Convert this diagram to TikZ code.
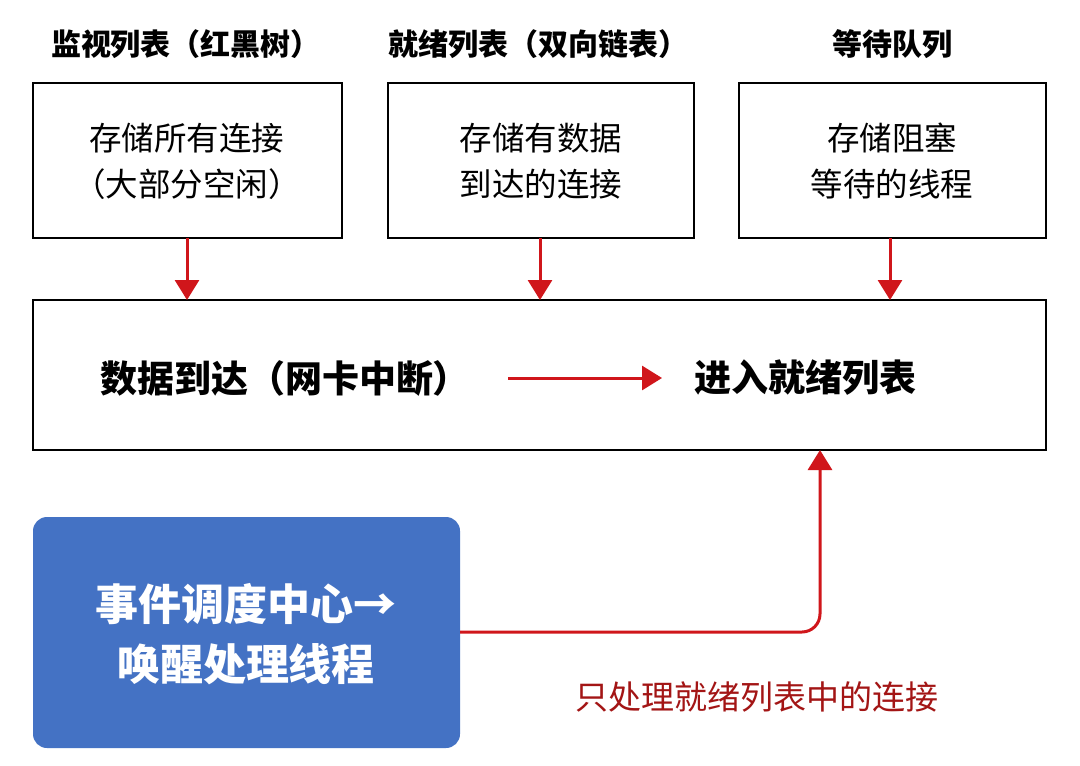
\documentclass[tikz,border=0pt]{standalone}
\usepackage{fontspec}
\setmainfont{Noto Sans CJK SC}
\usetikzlibrary{arrows.meta}
\definecolor{myred}{HTML}{D0161B}
\definecolor{myblue}{HTML}{4472C4}
\definecolor{darkred}{HTML}{A31515}
\begin{document}
\begin{tikzpicture}[x=1pt,y=-1pt,
  hdr/.style={font=\fontsize{30}{34}\selectfont\bfseries},
  box/.style={draw=black,line width=2.8pt,fill=white},
  btxt/.style={font=\fontsize{32.5}{46}\selectfont,align=center},
  arr/.style={myred,line width=3pt,-{Triangle[length=20pt,width=24pt]}}]
\useasboundingbox (0,0) rectangle (1080,766);
\fill[white] (0,0) rectangle (1080,766);
\node[hdr] (h1) at (186,44) {监视列表（红黑树）};
\node[hdr] (h2) at (538,44) {就绪列表（双向链表）};
\node[hdr] (h3) at (892,44) {等待队列};
\draw[box] (33,83) rectangle (342,238);
\draw[box] (388,83) rectangle (694,238);
\draw[box] (739,83) rectangle (1046,238);
\node[btxt] (b1) at (187,161) {存储所有连接\\（大部分空闲）};
\node[btxt] (b2) at (541,161) {存储有数据\\到达的连接};
\node[btxt] (b3) at (892,161) {存储阻塞\\等待的线程};
\draw[box] (33,300) rectangle (1046,450);
\coordinate (t1) at (187,300); \coordinate (t2) at (540,300); \coordinate (t3) at (890,300);
\coordinate (s1) at (187,238); \coordinate (s2) at (540,238); \coordinate (s3) at (890,238);
\draw[arr] (s1) -- (t1);
\draw[arr] (s2) -- (t2);
\draw[arr] (s3) -- (t3);
\node[font=\fontsize{37}{42}\selectfont\bfseries] (d) at (285,378) {数据到达（网卡中断）};
\node[font=\fontsize{37}{42}\selectfont\bfseries] (r) at (805,378) {进入就绪列表};
\coordinate (a1) at (508,378); \coordinate (a2) at (662,378);
\draw[arr] (a1) -- (a2);
\node[fill=myblue,rounded corners=14pt,minimum width=427pt,minimum height=231pt,inner sep=0pt] (ev) at (246.5,632.5) {};
\node[font=\fontsize{43}{60}\selectfont\bfseries,text=white,align=center] (evt) at (246,634) {事件调度中心→\\唤醒处理线程};
\coordinate (c1) at (820,632); \coordinate (c2) at (820,450);
\draw[myred,line width=3pt,rounded corners=18pt,-{Triangle[length=20pt,width=24pt]}] (ev.east |- 0,632) -- (c1) -- (c2);
\node[font=\fontsize{33}{38}\selectfont,text=darkred] (lbl) at (757,697) {只处理就绪列表中的连接};
\end{tikzpicture}
\end{document}
